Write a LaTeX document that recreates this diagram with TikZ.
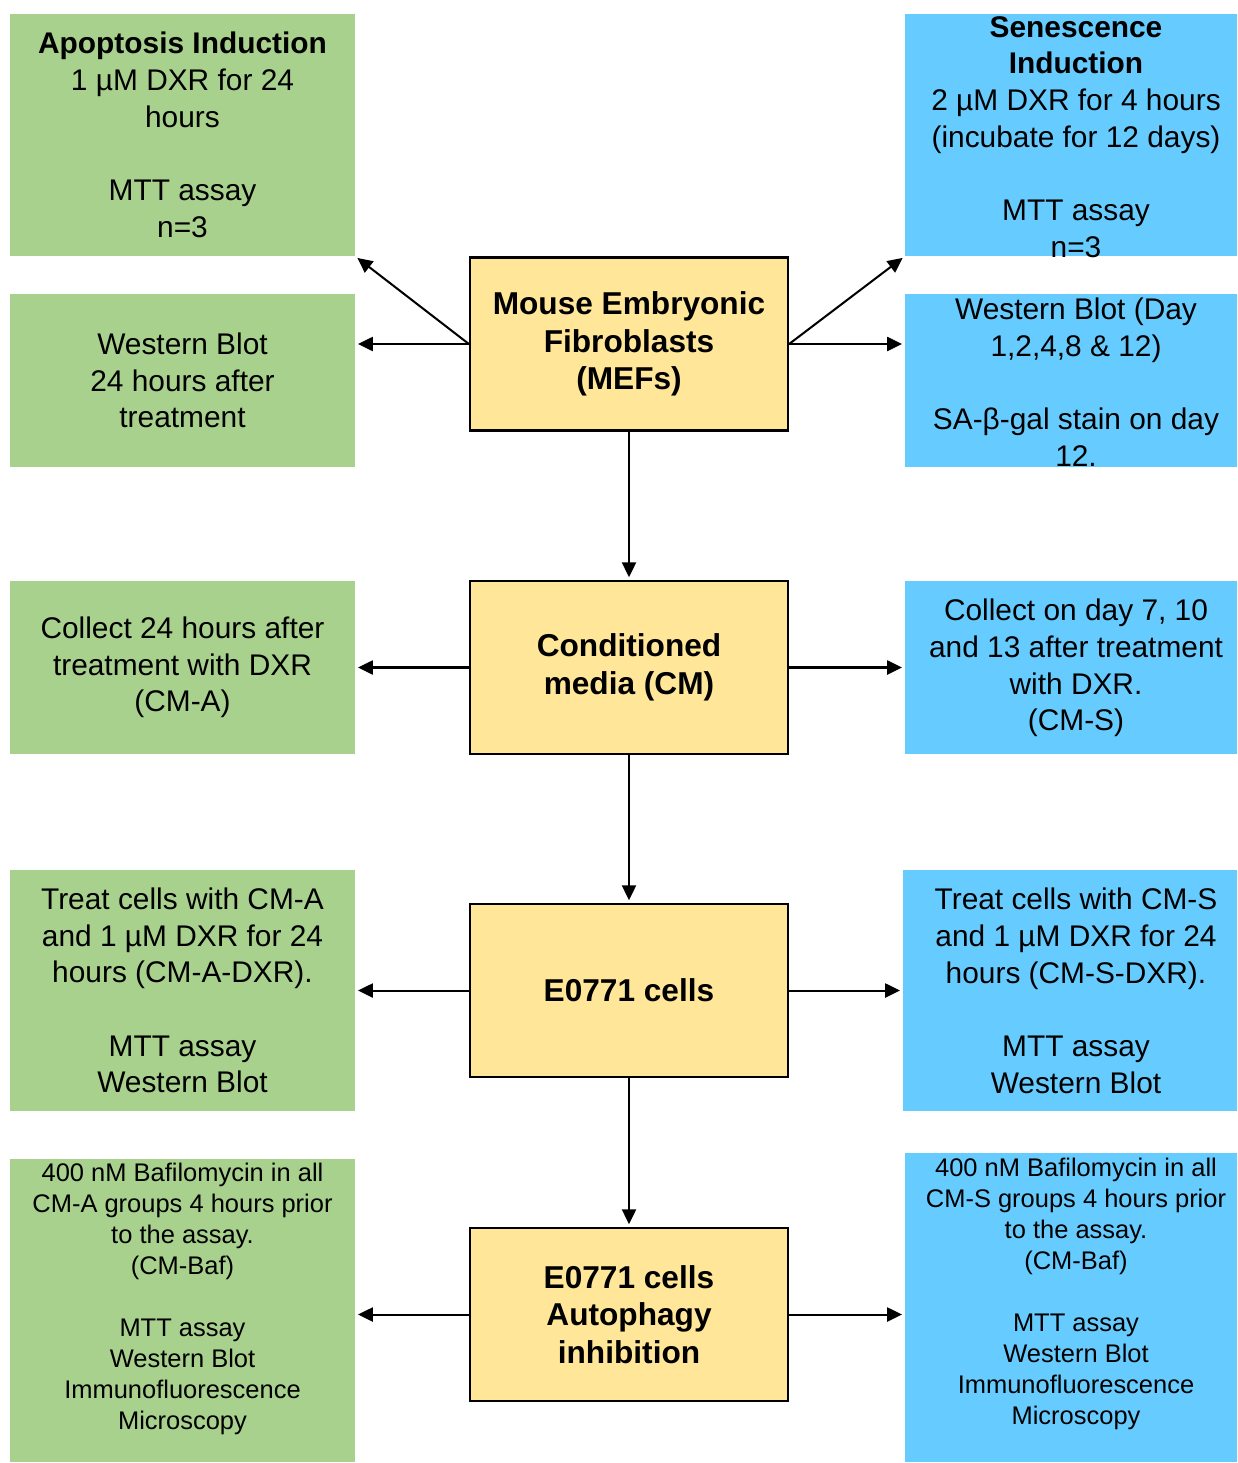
\documentclass[tikz,border=0pt]{standalone}
\usepackage{fontspec}
\setmainfont{Liberation Sans}
\usepackage{xcolor}
\definecolor{flowGreen}{HTML}{A9D18E}
\definecolor{flowBlue}{HTML}{66CCFF}
\definecolor{flowYellow}{HTML}{FFE699}
\usepackage{tikz}
\usetikzlibrary{arrows.meta,calc,positioning}
\newcommand{\bodyfont}{\fontsize{17}{20.9}\selectfont}
\newcommand{\cellfont}{\fontsize{18}{21.4}\selectfont}
\newcommand{\smallbody}{\fontsize{14.5}{17.6}\selectfont}

\begin{document}
\begin{tikzpicture}[x=0.02cm,y=-0.02cm,>={Triangle[length=8.5pt,width=8pt]},
  sidebox/.style={inner sep=0pt,align=center,font=\bodyfont,text=black},
  apopbox/.style={sidebox,fill=flowGreen,minimum width=6.9cm},
  senbox/.style={sidebox,fill=flowBlue,minimum width=6.64cm},
  cellbox/.style={draw=black,line width=1.3pt,fill=flowYellow,minimum width=6.36cm,minimum height=3.46cm,align=center,font=\cellfont\bfseries,inner sep=0pt},
  flow/.style={->,line width=1.15pt,shorten >=1.5pt}]
  \path[use as bounding box] (0,0) rectangle (1237,1463);

  % centre column
  \node[cellbox] (mef) at (629,344) {Mouse Embryonic\\Fibroblasts\\(MEFs)};
  \node[cellbox] (cm) at (629,667.5) {Conditioned\\media (CM)};
  \node[cellbox] (cells) at (629,990.5) {E0771 cells};
  \node[cellbox] (auto) at (629,1314.5) {E0771 cells\\Autophagy\\inhibition};

  % apoptosis side
  \node[apopbox,minimum height=4.84cm] (apop) at (182.5,135) {\textbf{Apoptosis Induction}\\1 µM DXR for 24\\hours\\[20.9pt]MTT assay\\n=3};
  \node[apopbox,minimum height=3.46cm] (apopwb) at (182.5,380.5) {Western Blot\\24 hours after\\treatment};
  \node[apopbox,minimum height=3.46cm] (cma) at (182.5,667.5) {Collect 24 hours after\\treatment with DXR\\(CM-A)};
  \node[apopbox,minimum height=4.82cm] (cmadxr) at (182.5,990.5) {Treat cells with CM-A\\and 1 µM DXR for 24\\hours (CM-A-DXR).\\[20.9pt]MTT assay\\Western Blot};
  \node[apopbox,minimum height=6.06cm] (bafa) at (182.5,1310.5) {};
  \node[sidebox,font=\smallbody] (bafatext) at (182.5,1299) {400 nM Bafilomycin in all\\CM-A groups 4 hours prior\\to the assay.\\(CM-Baf)\\[17.6pt]MTT assay\\Western Blot\\Immunofluorescence\\Microscopy};

  % senescence side
  \node[senbox,minimum height=4.84cm] (sen) at (1071,135) {};
  \node[sidebox] (sentext) at (1076,137) {\textbf{Senescence}\\\textbf{Induction}\\2 µM DXR for 4 hours\\(incubate for 12 days)\\[20.9pt]MTT assay\\n=3};
  \node[senbox,minimum height=3.46cm] (senwb) at (1071,380.5) {};
  \node[sidebox] (senwbtext) at (1076,382) {Western Blot (Day\\1,2,4,8 \& 12)\\[20.9pt]SA-β-gal stain on day\\12.};
  \node[senbox,minimum height=3.46cm] (cms) at (1071,667.5) {};
  \node[sidebox] (cmstext) at (1076,668) {Collect on day 7, 10\\and 13 after treatment\\with DXR.\\(CM-S)};
  \node[senbox,minimum width=6.68cm,minimum height=4.82cm] (cmsdxr) at (1070,990.5) {};
  \node[sidebox] (cmsdxrtext) at (1076,991) {Treat cells with CM-S\\and 1 µM DXR for 24\\hours (CM-S-DXR).\\[20.9pt]MTT assay\\Western Blot};
  \node[senbox,minimum height=6.18cm] (bafs) at (1071,1307.5) {};
  \node[sidebox,font=\smallbody] (bafstext) at (1076,1294) {400 nM Bafilomycin in all\\CM-S groups 4 hours prior\\to the assay.\\(CM-Baf)\\[17.6pt]MTT assay\\Western Blot\\Immunofluorescence\\Microscopy};

  % connectors
  \draw[flow] (mef.west) -- (apop.south east);
  \draw[flow] (mef.west) -- (mef.west -| apopwb.east);
  \draw[flow] (mef.east) -- (sen.south west);
  \draw[flow] (mef.east) -- (mef.east -| senwb.west);
  \draw[flow] (mef.south) -- (cm.north);
  \draw[flow] (cm.west) -- (cma.east);
  \draw[flow] (cm.east) -- (cms.west);
  \draw[flow] (cm.south) -- (cells.north);
  \draw[flow] (cells.west) -- (cmadxr.east);
  \draw[flow] (cells.east) -- (cmsdxr.west);
  \draw[flow] (cells.south) -- (auto.north);
  \draw[flow] (auto.west) -- (auto.west -| bafa.east);
  \draw[flow] (auto.east) -- (auto.east -| bafs.west);
\end{tikzpicture}
\end{document}
